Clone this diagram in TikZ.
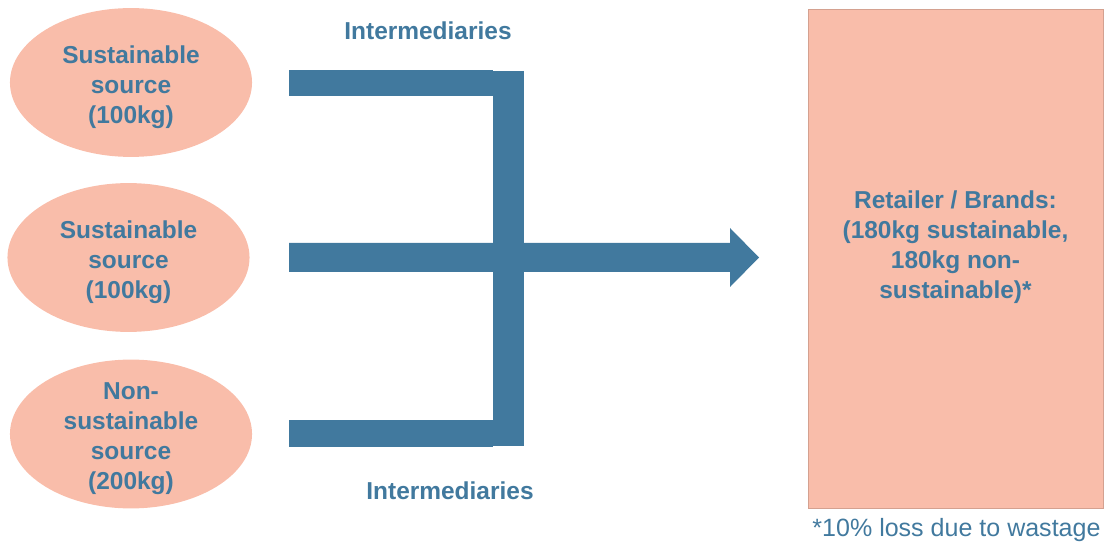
\documentclass[tikz,border=0pt]{standalone}
\usepackage{fontspec}
\setmainfont{Liberation Sans}
\usetikzlibrary{shapes.geometric}
\definecolor{salmon}{RGB}{249,189,170}
\definecolor{steel}{RGB}{65,121,158}
\begin{document}
\begin{tikzpicture}[x=0.025cm, y=-0.025cm,
  every node/.style={font=\fontsize{17.4pt}{21.3pt}\selectfont\bfseries, text=steel, align=center},
  src/.style={ellipse,fill=salmon,minimum width=6.05cm,minimum height=3.72cm,inner sep=0pt},
  bar/.style={draw=steel,line cap=butt}]
\useasboundingbox (0,0) rectangle (1104,543);
% sources
\node[src] (s1) at (131,82.5) {};
\node[src] (s2) at (128.5,257.5) {};
\node[src] (s3) at (131,434) {};
\node (s1t) at ([yshift=-0.11cm]s1) {Sustainable\\source\\(100kg)};
\node (s2t) at ([yshift=-0.12cm]s2) {Sustainable\\source\\(100kg)};
\node (s3t) at ([yshift=-0.12cm]s3) {Non-\\sustainable\\source\\(200kg)};
% intermediaries
\coordinate (t1) at (289,83); \coordinate (t2) at (493,83);
\coordinate (b1) at (289,433.5); \coordinate (b2) at (493,433.5);
\coordinate (v1) at (508.5,71); \coordinate (v2) at (508.5,446);
\draw[bar,line width=0.65cm] (t1) -- (t2);
\draw[bar,line width=0.65cm] (b1) -- (b2);
\draw[bar,line width=0.775cm] (v1) -- (v2);
\fill[steel] (289,243) -- (730,243) -- (730,228) -- (759,257.5) -- (730,287) -- (730,272) -- (289,272) -- cycle;
\node (im1) at (428,31) {Intermediaries};
\node (im2) at (450,491) {Intermediaries};
% retailer
\node[draw=salmon!85!black,fill=salmon,minimum width=7.375cm,minimum height=12.475cm,line width=0.4pt] (ret) at (955.5,258.5) {};
\node (rett) at ([yshift=0.28cm]ret) {Retailer / Brands:\\(180kg sustainable,\\180kg non-\\sustainable)*};
\node[font=\fontsize{17.8pt}{21.3pt}\selectfont] (note) at (956.5,530) {*10\% loss due to wastage};
\end{tikzpicture}
\end{document}
